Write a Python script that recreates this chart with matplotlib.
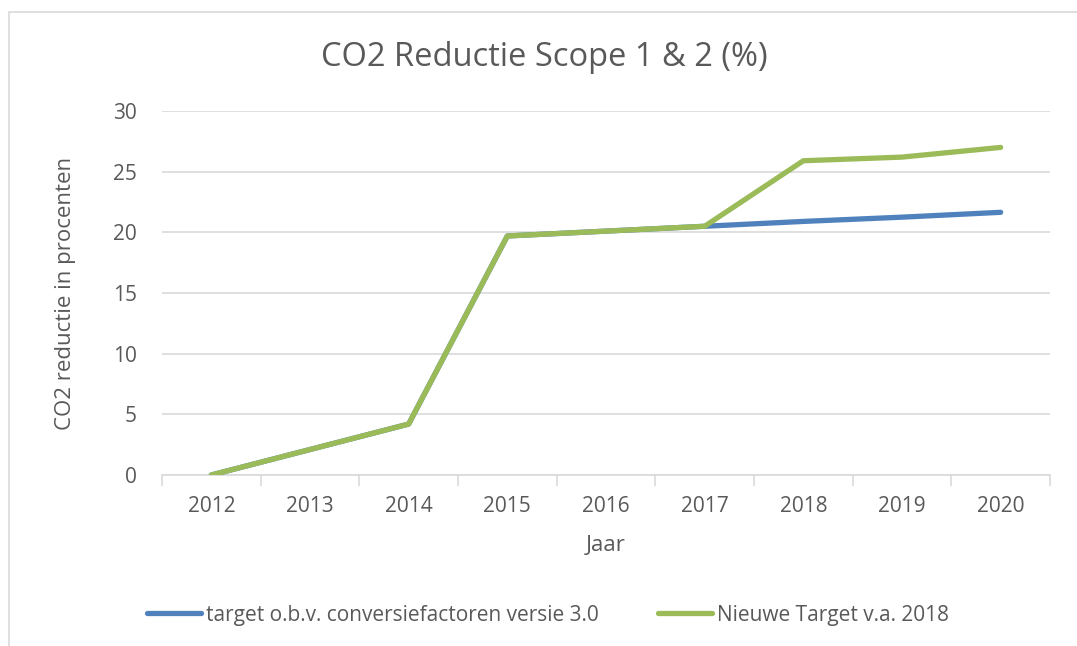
import matplotlib.pyplot as plt
from matplotlib.patches import Rectangle

# data
years = ["2012", "2013", "2014", "2015", "2016", "2017", "2018", "2019", "2020"]
target_v3 = [0.0, 2.1, 4.2, 19.7, 20.1, 20.5, 20.9, 21.25, 21.65]
target_2018 = [0.0, 2.1, 4.2, 19.7, 20.1, 20.5, 25.9, 26.2, 27.0]

blue = "#4f81bd"
green = "#9bbb59"
txt = "#595959"
grid = "#d9d9d9"

plt.rcParams["font.family"] = ["Open Sans", "DejaVu Sans"]

fig = plt.figure(figsize=(10.77, 6.46), dpi=100)
fig.patches.append(Rectangle((9 / 1077, -0.2), 1.5, 0.2 + (646 - 12) / 646,
                             transform=fig.transFigure, fill=False,
                             edgecolor=grid, linewidth=1.2))

ax = fig.add_axes([162 / 1077, (646 - 475) / 646, (1050 - 162) / 1077, (475 - 111) / 646])
x = list(range(len(years)))
ax.plot(x, target_v3, color=blue, lw=3.8, solid_capstyle="round",
        label="target o.b.v. conversiefactoren versie 3.0", zorder=3)
ax.plot(x, target_2018, color=green, lw=3.8, solid_capstyle="round",
        label="Nieuwe Target v.a. 2018", zorder=4)

ax.set_xlim(-0.5, len(years) - 0.5)
ax.set_ylim(0, 30)
ax.set_yticks(range(0, 31, 5))
ax.set_xticks(x)
ax.set_xticklabels(years)
ax.set_xticks([i - 0.5 for i in range(len(years) + 1)], minor=True)
ax.tick_params(axis="x", which="major", length=0, pad=15, labelsize=15, labelcolor=txt)
ax.tick_params(axis="x", which="minor", length=8, color=grid, width=1.2)
ax.tick_params(axis="y", length=0, pad=18, labelsize=15, labelcolor=txt)

ax.grid(axis="y", color=grid, lw=1.2)
ax.set_axisbelow(True)
for s in ["top", "right", "left"]:
    ax.spines[s].set_visible(False)
ax.spines["bottom"].set_color(grid)
ax.spines["bottom"].set_linewidth(1.2)

ax.set_xlabel("Jaar", fontsize=16, color=txt, labelpad=13)
ax.set_ylabel("CO2 reductie in procenten", fontsize=16, color=txt, labelpad=27)
fig.text(544 / 1077, (646 - 58) / 646, "CO2 Reductie Scope 1 & 2 (%)",
         fontsize=23.5, color=txt, ha="center", va="center")

fig.legend(loc="center", bbox_to_anchor=(548 / 1077, (646 - 615) / 646), ncol=2,
           frameon=False, fontsize=15, labelcolor=txt, handlelength=2.6,
           handletextpad=0.25, columnspacing=2.8)

fig.savefig("out.png", dpi=100)
